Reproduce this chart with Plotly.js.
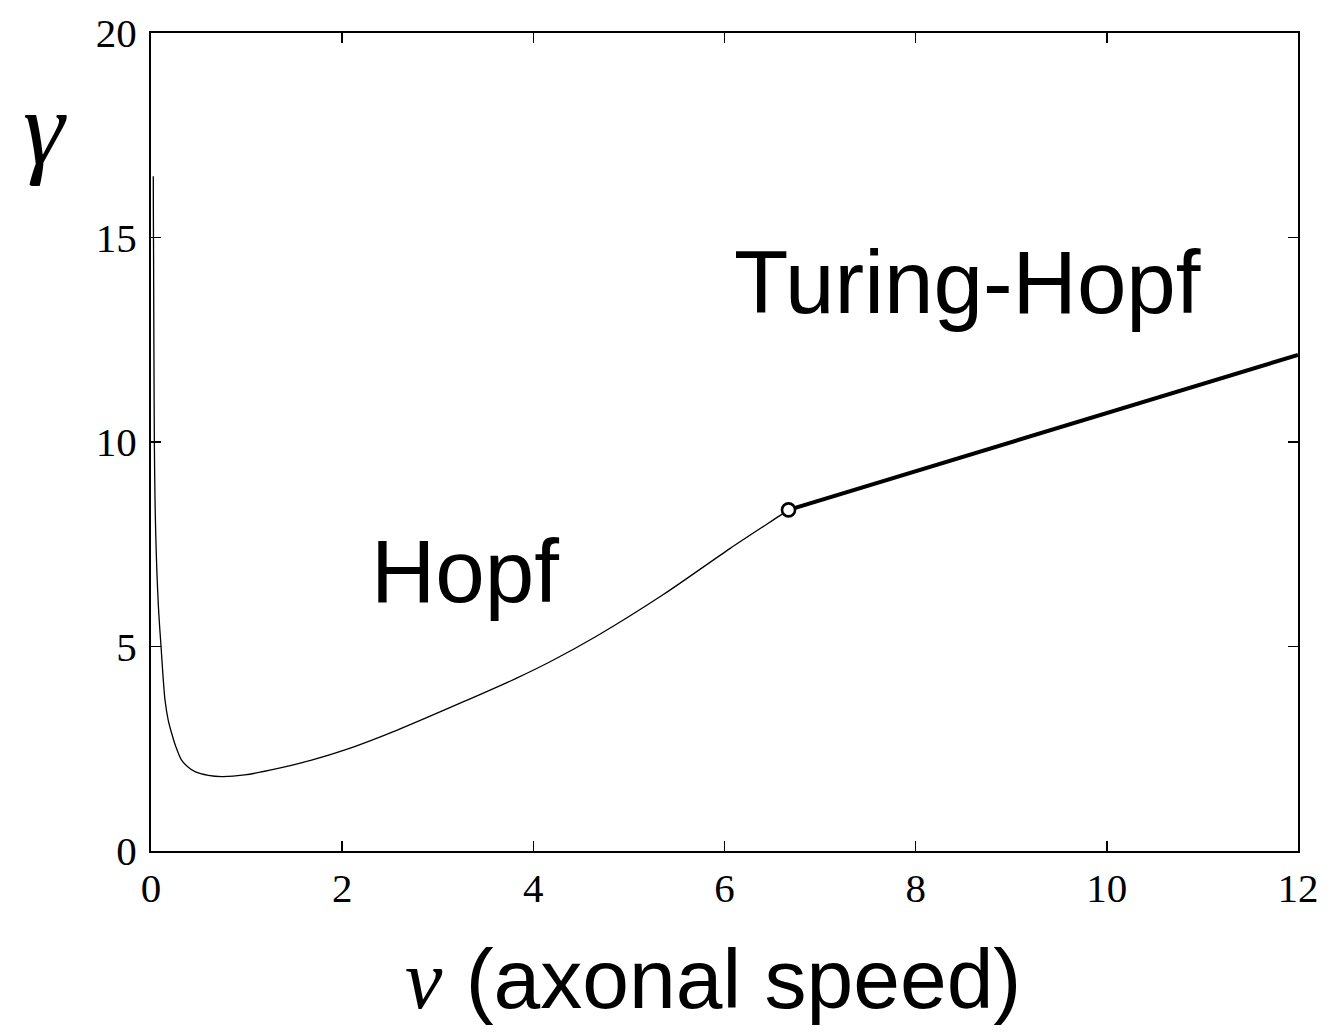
<!DOCTYPE html>
<html>
<head>
<meta charset="utf-8">
<script src="https://cdn.plot.ly/plotly-3.0.1.min.js"></script>
<style>
html,body{margin:0;padding:0;background:#fff;}
#chart{width:1331px;height:1035px;}
</style>
</head>
<body>
<div id="chart"></div>
<script>
// Hopf branch (thin curve)
const nuHopf = [0.024, 0.025, 0.027, 0.029, 0.031, 0.035, 0.042, 0.05, 0.062, 0.077, 0.09, 0.105, 0.125, 0.146, 0.18, 0.216, 0.26, 0.32, 0.39, 0.46, 0.6, 0.74, 0.98, 1.33, 1.68, 2.03, 2.57, 3.27, 3.82, 4.17, 4.66, 5.36, 6.06, 6.58, 6.67];
const gammaHopf = [16.5, 15.5, 14.5, 13.2, 12.0, 10.0, 8.6, 7.7, 6.8, 6.0, 5.5, 5.0, 4.3, 3.7, 3.2, 2.88, 2.55, 2.22, 2.05, 1.94, 1.85, 1.82, 1.86, 2.02, 2.22, 2.47, 2.95, 3.65, 4.22, 4.62, 5.25, 6.27, 7.40, 8.20, 8.34];
// Turing-Hopf branch (thick line)
const nuTuring = [6.67, 12];
const gammaTuring = [8.34, 12.13];
// Codimension-two point
const nuPoint = [6.67];
const gammaPoint = [8.34];
// Ticks
const xTicks = [0, 2, 4, 6, 8, 10, 12];
const yTicks = [0, 5, 10, 15, 20];

const traces = [
  {x: nuHopf, y: gammaHopf, mode: 'lines', line: {color: '#000', width: 1.3, shape: 'spline', smoothing: 0.8}, hoverinfo: 'skip'},
  {x: nuTuring, y: gammaTuring, mode: 'lines', line: {color: '#000', width: 4}, hoverinfo: 'skip'},
  {x: nuPoint, y: gammaPoint, mode: 'markers', marker: {size: 13, color: '#fff', line: {color: '#000', width: 2.6}}, hoverinfo: 'skip'}
];

const axisCommon = {
  showgrid: false, zeroline: false, showline: true, linecolor: '#000', linewidth: 2,
  mirror: 'ticks', ticks: 'inside', ticklen: 10, tickwidth: 1.5, tickcolor: '#000',
  tickfont: {family: 'Liberation Serif, Times New Roman, serif', size: 41, color: '#000'}
};

const layout = {
  width: 1331, height: 1035,
  margin: {l: 151, r: 33, t: 33, b: 184},
  paper_bgcolor: '#fff', plot_bgcolor: '#fff',
  showlegend: false,
  xaxis: Object.assign({}, axisCommon, {range: [0, 12], tickvals: xTicks, ticktext: xTicks.map(String)}),
  yaxis: Object.assign({}, axisCommon, {range: [0, 20], tickvals: yTicks, ticktext: yTicks.map(String), ticklabelstandoff: 4}),
  annotations: [
    {text: 'Hopf', x: 3.28, y: 6.85, xref: 'x', yref: 'y', showarrow: false,
     font: {family: 'Liberation Sans, Arial, sans-serif', size: 89, color: '#000'}},
    {text: 'Turing-Hopf', x: 8.54, y: 13.9, xref: 'x', yref: 'y', showarrow: false,
     font: {family: 'Liberation Sans, Arial, sans-serif', size: 89, color: '#000'}},
    {text: '<span style="font-family:Liberation Serif"><i>ν</i></span> (axonal speed)', x: 0.49, y: -0.157, xref: 'paper', yref: 'paper',
     xanchor: 'center', yanchor: 'middle', showarrow: false,
     font: {family: 'Liberation Sans, Arial, sans-serif', size: 84, color: '#000'}},
    {text: '<i>γ</i>', x: -0.0924, y: 0.884, xref: 'paper', yref: 'paper',
     xanchor: 'center', yanchor: 'middle', showarrow: false,
     font: {family: 'Liberation Serif, Times New Roman, serif', size: 105, color: '#000'}}
  ]
};

Plotly.newPlot('chart', traces, layout, {staticPlot: true, displayModeBar: false});
</script>
</body>
</html>
